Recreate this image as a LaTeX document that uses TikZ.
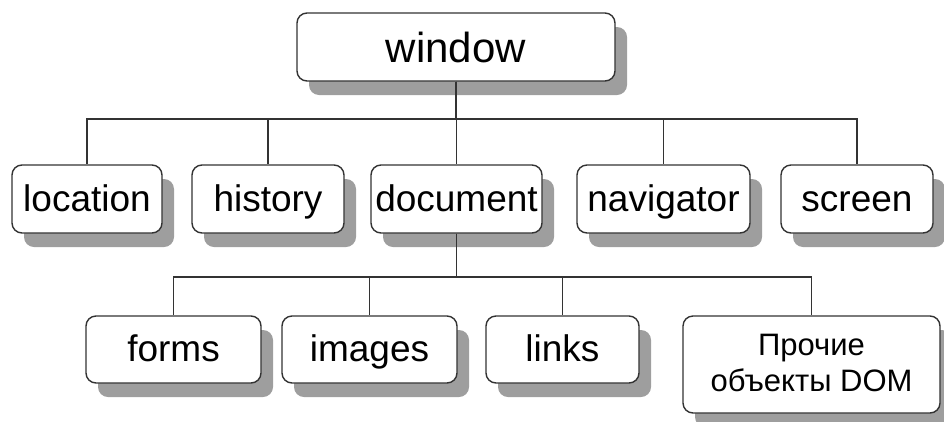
\documentclass[tikz,border=0pt]{standalone}
\usepackage{fontspec}
\setmainfont{Liberation Sans}
\usetikzlibrary{shadows}
\begin{document}
\begin{tikzpicture}[x=1pt,y=-1pt,
  blk/.style={draw=black!80, line width=1.4pt, fill=white, rounded corners=10pt,
    inner sep=0pt, align=center,
    drop shadow={shadow xshift=12pt, shadow yshift=-14pt, fill=black!38, opacity=1}},
  lvlA/.style={blk, font=\fontsize{42}{46}\selectfont, text height=32pt, text depth=2pt},
  lvlB/.style={blk, font=\fontsize{37}{40}\selectfont, minimum height=68pt,
    text height=26pt, text depth=2pt},
  lvlC/.style={blk, font=\fontsize{37}{40}\selectfont, minimum height=67pt,
    text height=26pt, text depth=3pt},
  wire/.style={draw=black!80, line width=1.4pt}]
\useasboundingbox (0,0) rectangle (944,421);

% root
\node[lvlA, minimum width=318pt, minimum height=68pt] (win) at (456,47) {window};

% second level
\node[lvlB, minimum width=150pt] (loc) at (87,199) {location};
\node[lvlB, minimum width=152pt] (hist) at (268,199) {history};
\node[lvlB, minimum width=171pt] (doc) at (456.5,199) {document};
\node[lvlB, minimum width=173pt] (nav) at (663.5,199) {navigator};
\node[lvlB, minimum width=152pt] (scr) at (857,199) {screen};

% third level
\node[lvlC, minimum width=175pt] (frm) at (173.5,349.5) {forms};
\node[lvlC, minimum width=175pt] (img) at (369.5,349.5) {images};
\node[lvlC, minimum width=153pt] (lnk) at (562.5,349.5) {links};
\node[blk, minimum width=257pt, minimum height=97pt, font=\fontsize{31}{36}\selectfont]
  (oth) at (811.5,364.5) {\raisebox{4pt}{Прочие}\\\raisebox{4pt}{объекты DOM}};

% bus junctions
\coordinate (busA) at (win.south |- 0,119);
\coordinate (busB) at (doc.south |- 0,277);

% connectors
\foreach \c in {loc,hist,doc,nav,scr}
  \draw[wire] (win.south) -- (busA) -| (\c.north);
\foreach \c in {frm,img,lnk,oth}
  \draw[wire] (doc.south) -- (busB) -| (\c.north);
\end{tikzpicture}
\end{document}
